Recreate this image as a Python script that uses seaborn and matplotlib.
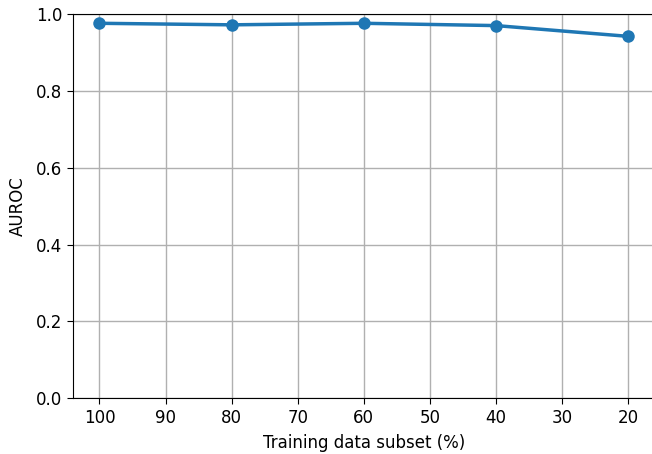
import matplotlib
matplotlib.use("Agg")
import matplotlib.pyplot as plt
import seaborn as sns
import pandas as pd

# Data
subset_pct = [100, 80, 60, 40, 20]
auroc = [0.976, 0.972, 0.976, 0.970, 0.942]
x_ticks = [100, 90, 80, 70, 60, 50, 40, 30, 20]

df = pd.DataFrame({"subset": subset_pct, "auroc": auroc})

sns.set_style("ticks")
plt.rcParams['font.family'] = ['DejaVu Sans']
plt.rcParams['text.color'] = 'black'
plt.rcParams['axes.labelcolor'] = 'black'

fig, ax = plt.subplots(figsize=(6.52, 4.54), dpi=100)
fig.subplots_adjust(left=0.112, right=1.004, top=0.969, bottom=0.123)

sns.lineplot(data=df, x="subset", y="auroc", marker="o", color="#1f77b4",
             linewidth=2.5, markersize=9, markeredgewidth=0, ax=ax)

ax.set_xlim(104, 16)
ax.set_ylim(0, 1.0)
ax.set_xticks(x_ticks)
ax.set_yticks([0.0, 0.2, 0.4, 0.6, 0.8, 1.0])
ax.grid(True, color="#b0b0b0", linewidth=1)
ax.set_axisbelow(True)
ax.tick_params(labelsize=12, length=4, colors="black")
ax.set_xlabel("Training data subset (%)", fontsize=12, color="black", labelpad=5)
ax.set_ylabel("AUROC", fontsize=12, color="black", labelpad=7)
for s in ax.spines.values():
    s.set_color("black")

plt.savefig("out.png", dpi=100)
